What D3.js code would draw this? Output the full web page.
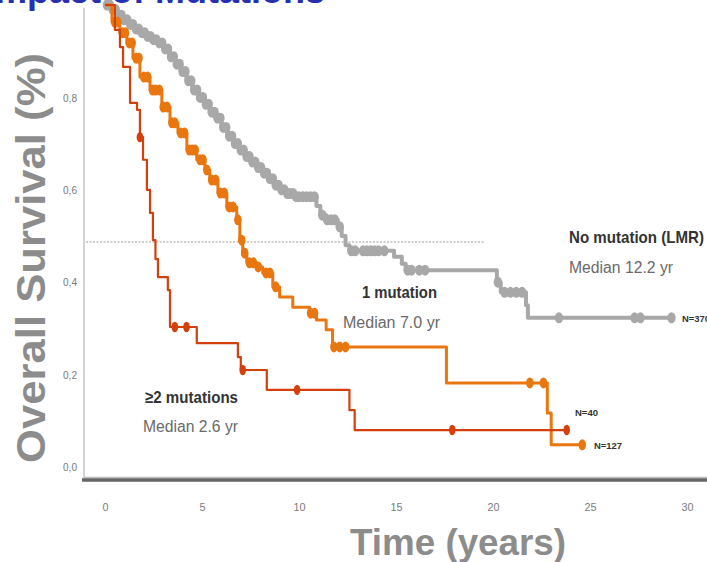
<!DOCTYPE html>
<html>
<head>
<meta charset="utf-8">
<script src="https://cdn.jsdelivr.net/npm/d3@7"></script>
<style>
	body { margin: 0; background: #fff; }
	svg { display: block; }
	.tick text { font-family: "Liberation Sans", sans-serif; fill: #7a7a7a; font-size: 11.5px; }
	.lbl { font-family: "Liberation Sans", sans-serif; }
</style>
</head>
<body>
<svg id="chart" width="707" height="562"></svg>
<script>

// No mutation (LMR), N=370
const noMutTime = [0, 0.3, 0.6, 0.9, 1.2, 1.5, 1.8, 2.1, 2.4, 2.7, 3.0, 3.3, 3.6, 3.9, 4.2, 4.5, 4.8, 5.1, 5.4, 5.7,
	6.0, 6.3, 6.6, 6.9, 7.2, 7.5, 7.8, 8.1, 8.4, 8.7, 9.0, 9.4, 9.8, 10.9, 11.1, 11.4, 12.0, 12.2, 12.4, 12.6,
	14.9, 15.3, 15.5, 20.2, 20.4, 21.7, 21.8, 29.2];
const noMutSurv = [1.0, 0.99, 0.978, 0.968, 0.958, 0.948, 0.94, 0.932, 0.925, 0.918, 0.905, 0.888, 0.872, 0.856, 0.836, 0.816, 0.8, 0.785, 0.768, 0.755,
	0.735, 0.716, 0.7, 0.686, 0.672, 0.66, 0.648, 0.636, 0.624, 0.61, 0.6, 0.592, 0.585, 0.565, 0.545, 0.535, 0.52, 0.50, 0.48, 0.468,
	0.455, 0.44, 0.426, 0.40, 0.378, 0.35, 0.323, 0.323];
const noMutCensor = [0.1, 0.25, 0.4, 0.55, 0.7, 0.85, 1.0, 1.15, 1.3, 1.45, 1.6, 1.75, 1.9, 2.05, 2.2, 2.35, 2.5, 2.65,
	2.8, 2.95, 3.1, 3.25, 3.4, 3.55, 3.7, 3.85, 4.0, 4.15, 4.3, 4.45, 4.6, 4.75, 4.9, 5.05, 5.2, 5.35, 5.5, 5.65,
	5.8, 5.95, 6.1, 6.25, 6.4, 6.55, 6.7, 6.85, 7.0, 7.15, 7.3, 7.45, 7.6, 7.75, 7.9, 8.05, 8.2, 8.35, 8.5, 8.65,
	8.8, 8.95, 9.1, 9.25, 9.4, 9.55, 9.7, 9.85, 10.0, 10.2, 10.4, 10.6, 10.8, 11.2, 11.45, 11.65, 11.85, 12.1,
	12.7, 12.9, 13.3, 13.5, 13.7, 13.9, 14.1, 14.4, 15.6, 15.8, 16.2, 16.5,
	20.25, 20.6, 20.9, 21.2, 21.5, 23.4, 27.3, 27.6, 29.2];

// 1 mutation, N=127
const oneMutTime = [0, 0.36, 0.77, 1.13, 1.44, 1.8, 2.32, 2.93, 3.35, 3.76, 4.22, 4.73, 5.15, 5.4, 5.82, 6.28, 6.79, 6.95,
	7.1, 7.31, 7.82, 8.13, 8.65, 9.0, 9.68, 10.55, 10.9, 11.4, 11.73, 17.6, 22.8, 23.0, 24.6];
const oneMutSurv = [1.0, 0.963, 0.94, 0.918, 0.885, 0.844, 0.816, 0.779, 0.745, 0.723, 0.686, 0.665, 0.643, 0.621, 0.593, 0.563, 0.535, 0.491,
	0.463, 0.442, 0.433, 0.42, 0.39, 0.368, 0.346, 0.333, 0.318, 0.297, 0.26, 0.182, 0.117, 0.048, 0.048];
const oneMutCensor = [0.5, 0.65, 0.9, 1.05, 1.25, 1.4, 1.6, 1.75, 2.0, 2.2, 2.45, 2.6, 2.8, 3.0, 3.2, 3.45, 3.6, 3.9,
	4.1, 4.35, 4.5, 4.65, 4.9, 5.05, 5.25, 5.5, 5.7, 5.95, 6.15, 6.4, 6.6, 6.85, 7.05, 7.2, 7.45, 7.65, 7.9, 8.3,
	8.5, 8.8, 10.6, 10.8, 11.8, 12.1, 12.4, 21.9, 22.6, 24.6];

// >=2 mutations, N=40
const twoMutTime = [0, 0.51, 0.77, 0.93, 1.29, 1.65, 1.8, 1.96, 2.16, 2.32, 2.47, 2.6, 2.73, 3.24, 3.35, 4.73, 6.85, 7.0,
	8.34, 12.6, 12.87, 23.8];
const twoMutSurv = [1.0, 0.946, 0.909, 0.866, 0.788, 0.773, 0.714, 0.665, 0.6, 0.55, 0.491, 0.45, 0.411, 0.383, 0.303, 0.268, 0.238, 0.21,
	0.167, 0.123, 0.08, 0.08];
const twoMutCensor = [1.8, 3.6, 4.2, 7.1, 9.9, 17.9, 23.8];

const xTicks = [0, 5, 10, 15, 20, 25, 30];
const yTicks = [0, 0.2, 0.4, 0.6, 0.8];
const medianLevel = 0.487;

const svg = d3.select("#chart");

const x = d3.scaleLinear().domain([0, 30]).range([105, 687]);
const y = d3.scaleLinear().domain([0, 1]).range([467, 5]);

// Title, cut off at the top of the picture
svg.append("text")
	.attr("x", 325).attr("y", 3)
	.attr("text-anchor", "end")
	.style("font-family", "Liberation Sans, sans-serif")
	.style("font-weight", "bold")
	.style("font-size", "36px")
	.style("fill", "#2630b0")
	.text("Impact of Mutations");

// Y axis labels
svg.append("g")
	.attr("transform", "translate(78,0)")
	.call(d3.axisLeft(y).tickValues(yTicks).tickSize(0).tickPadding(0)
		.tickFormat(d => d3.format(".1f")(d).replace(".", ",")))
	.call(g => g.select(".domain").remove())
	.selectAll("text")
		.attr("text-anchor", "middle")
		.attr("dx", -8)
		.attr("textLength", 14)
		.attr("lengthAdjust", "spacingAndGlyphs");

// X axis labels
svg.append("g")
	.attr("transform", "translate(0,479)")
	.call(d3.axisBottom(x).tickValues(xTicks).tickSize(0).tickPadding(24))
	.call(g => g.select(".domain").remove())
	.selectAll("text")
		.attr("textLength", d => d < 10 ? 6 : 12)
		.attr("lengthAdjust", "spacingAndGlyphs");

// Axis lines
svg.append("line")
	.attr("x1", 84).attr("x2", 84).attr("y1", 8).attr("y2", 479)
	.style("stroke", "#c4c4c4").style("stroke-width", 1.5);
svg.append("line")
	.attr("x1", 84).attr("x2", 707).attr("y1", 477.5).attr("y2", 477.5)
	.style("stroke", "#bdbdbd").style("stroke-width", 1.5);
svg.append("line")
	.attr("x1", 82).attr("x2", 707).attr("y1", 480).attr("y2", 480)
	.style("stroke", "#666").style("stroke-width", 3.5);

// Median line
svg.append("line")
	.attr("x1", 86).attr("x2", 485)
	.attr("y1", y(medianLevel)).attr("y2", y(medianLevel))
	.style("stroke", "#999").style("stroke-width", 1)
	.style("stroke-dasharray", "2,1.5");

// Kaplan-Meier curves
const line = d3.line()
	.x(d => x(d.t))
	.y(d => y(d.s))
	.curve(d3.curveStepAfter);

function survAt(times, surv, t) {
	let s = surv[0];
	for (let i = 0; i < times.length; i++) {
		if (times[i] <= t) s = surv[i];
	}
	return s;
}

const series = [
	{ times: noMutTime, surv: noMutSurv, censor: noMutCensor, color: "#a8a8a8", width: 4, rx: 4.2, ry: 5.5 },
	{ times: oneMutTime, surv: oneMutSurv, censor: oneMutCensor, color: "#e9760f", width: 3, rx: 3.8, ry: 5.5 },
	{ times: twoMutTime, surv: twoMutSurv, censor: twoMutCensor, color: "#d3400c", width: 2.2, rx: 3.3, ry: 5.2 }
];

series.forEach(sr => {
	const pts = sr.times.map((t, i) => ({ t: t, s: sr.surv[i] }));
	svg.append("path")
		.attr("d", line(pts))
		.style("fill", "none")
		.style("stroke", sr.color)
		.style("stroke-width", sr.width)
		.style("stroke-linejoin", "round");

	svg.append("g").selectAll("ellipse")
		.data(sr.censor)
		.enter()
		.append("ellipse")
			.attr("cx", d => x(d))
			.attr("cy", d => y(survAt(sr.times, sr.surv, d)))
			.attr("rx", sr.rx)
			.attr("ry", sr.ry)
			.style("fill", sr.color);
});

// Annotations
const labels = [
	{ text: "No mutation (LMR)", x: 569, y: 243, w: 135, size: 17, bold: true },
	{ text: "Median 12.2 yr", x: 569, y: 273, w: 104, size: 16, bold: false },
	{ text: "1 mutation", x: 362, y: 298, w: 75, size: 17, bold: true },
	{ text: "Median 7.0 yr", x: 343, y: 328, w: 97, size: 16, bold: false },
	{ text: "\u22652 mutations", x: 145, y: 403, w: 93, size: 17, bold: true },
	{ text: "Median 2.6 yr", x: 143, y: 432, w: 95, size: 16, bold: false },
	{ text: "N=40", x: 575, y: 416, w: 23, size: 9, bold: true },
	{ text: "N=127", x: 594, y: 449, w: 28, size: 9, bold: true },
	{ text: "N=370", x: 682, y: 322, w: 28, size: 9, bold: true }
];

svg.append("g").selectAll("text")
	.data(labels)
	.enter()
	.append("text")
		.classed("lbl", true)
		.attr("x", d => d.x)
		.attr("y", d => d.y)
		.attr("textLength", d => d.w)
		.attr("lengthAdjust", "spacingAndGlyphs")
		.style("font-size", d => d.size + "px")
		.style("font-weight", d => d.bold ? "bold" : "normal")
		.style("fill", d => d.bold ? "#333" : "#6a6a6a")
		.text(d => d.text);

// Axis titles
svg.append("text")
	.attr("transform", "translate(45,258) rotate(-90)")
	.attr("text-anchor", "middle")
	.attr("textLength", 410)
	.attr("lengthAdjust", "spacingAndGlyphs")
	.style("font-family", "Liberation Sans, sans-serif")
	.style("font-weight", "bold")
	.style("font-size", "40px")
	.style("fill", "#8c8c8c")
	.text("Overall Survival (%)");

svg.append("text")
	.attr("x", 458).attr("y", 555)
	.attr("text-anchor", "middle")
	.attr("textLength", 216)
	.attr("lengthAdjust", "spacingAndGlyphs")
	.style("font-family", "Liberation Sans, sans-serif")
	.style("font-weight", "bold")
	.style("font-size", "37px")
	.style("fill", "#8c8c8c")
	.text("Time (years)");

</script>
</body>
</html>
